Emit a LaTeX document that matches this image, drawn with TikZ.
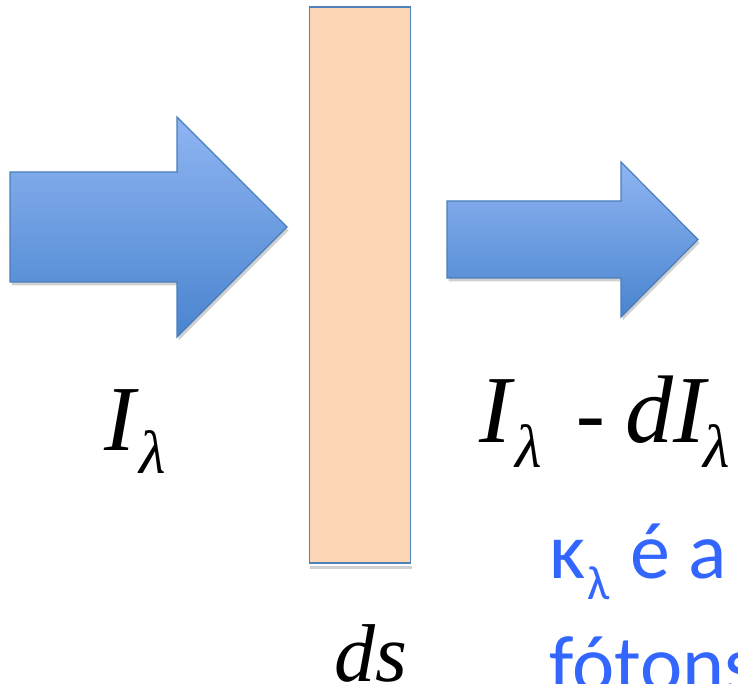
\documentclass[tikz,border=0pt]{standalone}
\usepackage{fontspec}
\setmainfont{Liberation Serif}
\newfontfamily\carl{Carlito}
\definecolor{arrowtop}{HTML}{8FB5F2}
\definecolor{arrowbot}{HTML}{4A84CF}
\definecolor{arrowline}{HTML}{4A7EBB}
\definecolor{slabfill}{HTML}{FCD5B5}
\definecolor{slabline}{HTML}{4F81BD}
\definecolor{bluetext}{HTML}{3366FF}
\tikzset{
  bigarrow/.style={top color=arrowtop, bottom color=arrowbot, draw=arrowline, line width=1.2pt, line join=miter},
  shadowshape/.style={fill=black!18, draw=none},
  slab/.style={fill=slabfill, draw=slabline, line width=1.8pt},
  mathlabel/.style={inner sep=0pt, anchor=base west, font=\fontsize{93}{93}\selectfont\itshape},
  bluelabel/.style={inner sep=0pt, anchor=base west, text=bluetext, font=\carl\fontsize{80}{80}\selectfont},
}
\newcommand{\sublam}[1]{\raisebox{-#1}{\fontsize{61}{61}\selectfont\itshape λ}}
\begin{document}
\begin{tikzpicture}[x=1pt,y=-1pt]
\useasboundingbox (0,0) rectangle (738,684);
% left arrow
\fill[shadowshape] (11.5,175.5) -- (178.5,175.5) -- (178.5,120.5) -- (288.5,230.5) -- (178.5,340.5) -- (178.5,285.5) -- (11.5,285.5) -- cycle;
\path[bigarrow] (10,172) -- (177,172) -- (177,117) -- (287,227) -- (177,337) -- (177,282) -- (10,282) -- cycle;
% right arrow
\fill[shadowshape] (448.5,204.5) -- (622.5,204.5) -- (622.5,165.5) -- (699.5,243) -- (622.5,320.5) -- (622.5,281.5) -- (448.5,281.5) -- cycle;
\path[bigarrow] (447,201) -- (621,201) -- (621,162) -- (698,239.5) -- (621,317) -- (621,278) -- (447,278) -- cycle;
% slab
\fill[shadowshape] (310,566) rectangle (412,569);
\path[slab] (309.5,7) rectangle (410.5,563);
% labels
\node[mathlabel] (iin) at (104,450) {I\kern4pt\sublam{23pt}};
\node[mathlabel, font=\fontsize{96}{96}\selectfont\itshape] (iout) at (479,442) {I\kern4pt\sublam{25pt}\kern35pt{\upshape\fontsize{86}{86}\selectfont -}\kern20pt d\kern0pt I\kern-2pt\sublam{25pt}};
\node[mathlabel, font=\fontsize{82}{82}\selectfont\itshape] (ds) at (334,681) {ds};
\node[bluelabel] (kap) at (549,578) {κ\kern2pt\raisebox{-21pt}{\fontsize{48}{48}\selectfont λ}\kern3pt\ é a};
\node[bluelabel] (fot) at (549,691) {fótons};
\end{tikzpicture}
\end{document}
